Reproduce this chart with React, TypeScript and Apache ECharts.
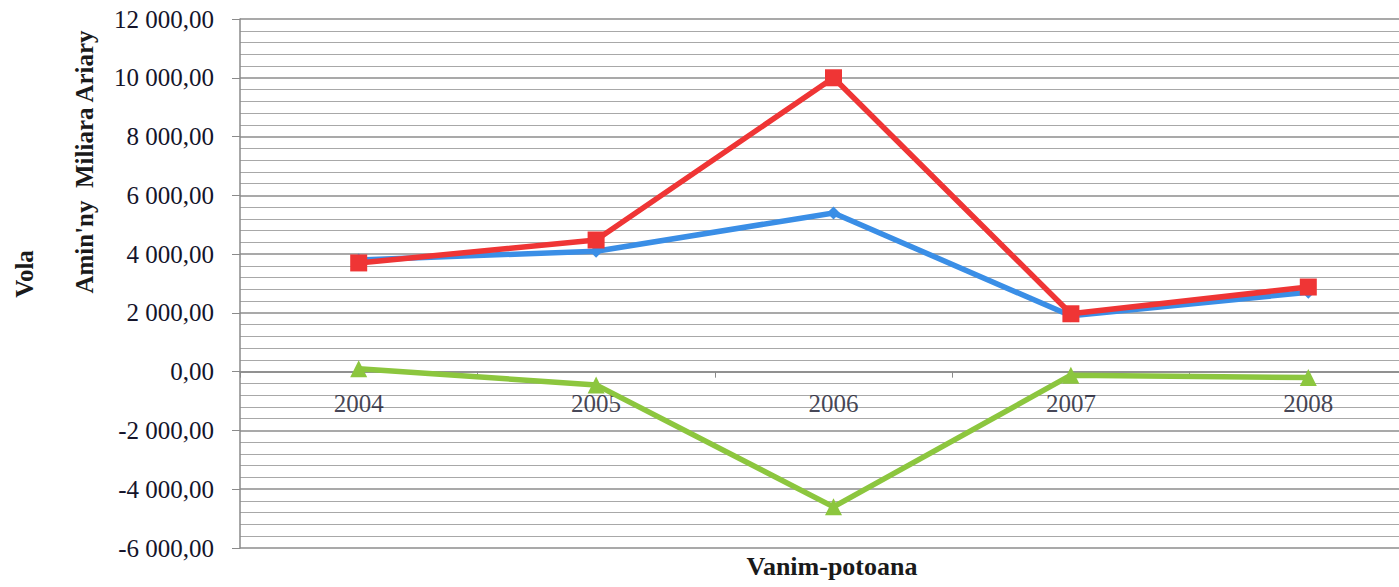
import React, { useEffect, useRef } from "react";
import * as echarts from "echarts";

const years = ["2004", "2005", "2006", "2007", "2008"];
const blueValues = [3800, 4100, 5400, 1900, 2700];
const redValues = [3700, 4480, 10000, 1970, 2880];
const greenValues = [100, -450, -4600, -120, -200];
const labelAnchor = [0, 0, 0, 0, 0];
const yMin = -6000;
const yMax = 12000;
const yStep = 2000;

function fmt(v: number): string {
  const neg = v < 0;
  const a = Math.abs(v);
  const s = Math.round(a).toString().replace(/\B(?=(\d{3})+(?!\d))/g, " ");
  return (neg ? "-" : "") + s + ",00";
}

export default function App() {
  const ref = useRef<HTMLDivElement>(null);
  useEffect(() => {
    document.body.style.margin = "0";
    const chart = echarts.init(ref.current!, null, { renderer: "svg" });
    const font = "'Liberation Serif', 'Times New Roman', serif";
    chart.setOption({
      animation: false,
      backgroundColor: "#ffffff",
      grid: {
        left: 240,
        width: 1187,
        top: 19,
        bottom: 39,
        containLabel: false,
        outerBoundsMode: "none",
      },
      xAxis: {
        type: "category",
        data: years,
        boundaryGap: true,
        axisLine: { onZero: true, lineStyle: { color: "#8a8a8a", width: 1.5 } },
        axisTick: { show: true, alignWithLabel: false, length: 6, lineStyle: { color: "#8a8a8a" } },
        axisLabel: { show: false },
        splitLine: { show: false },
      },
      yAxis: {
        type: "value",
        min: yMin,
        max: yMax,
        interval: yStep,
        axisLine: { show: true, lineStyle: { color: "#8a8a8a", width: 1.5 } },
        axisTick: { show: true, length: 8, lineStyle: { color: "#8a8a8a" } },
        minorTick: { show: false, splitNumber: 5 },
        axisLabel: {
          formatter: (v: number) => fmt(v),
          margin: 26,
          fontFamily: font,
          fontSize: 25,
          color: "#14142a",
        },
        splitLine: { show: true, lineStyle: { color: "#8c8c8c", width: 1.5 } },
        minorSplitLine: { show: true, lineStyle: { color: "#a8a8a8", width: 1.2 } },
      },
      graphic: [
        {
          type: "text",
          x: 24,
          y: 274,
          rotation: Math.PI / 2,
          style: {
            text: "Vola",
            font: "bold 25px " + font,
            fill: "#1a1a1a",
            textAlign: "center",
            textVerticalAlign: "middle",
          },
        },
        {
          type: "text",
          x: 84,
          y: 162,
          rotation: Math.PI / 2,
          style: {
            text: "Amin'ny  Miliara Ariary",
            font: "bold 25px " + font,
            fill: "#1a1a1a",
            textAlign: "center",
            textVerticalAlign: "middle",
          },
        },
        {
          type: "text",
          x: 832,
          y: 566,
          style: {
            text: "Vanim-potoana",
            font: "bold 26px " + font,
            fill: "#1a1a1a",
            textAlign: "center",
            textVerticalAlign: "middle",
          },
        },
      ],
      series: [
        {
          type: "scatter",
          data: labelAnchor,
          symbolSize: 0,
          silent: true,
          z: 1,
          label: {
            show: true,
            position: "inside",
            offset: [0, 32],
            formatter: (p: any) => p.name,
            fontFamily: font,
            fontSize: 25,
            color: "#14142a",
          },
        },
        {
          type: "line",
          data: greenValues,
          symbol: "triangle",
          symbolSize: 17,
          lineStyle: { color: "#8cc63e", width: 5.5 },
          itemStyle: { color: "#8cc63e" },
          z: 2,
        },
        {
          type: "line",
          data: blueValues,
          symbol: "diamond",
          symbolSize: 13,
          lineStyle: { color: "#3a8ee6", width: 5.5 },
          itemStyle: { color: "#3a8ee6" },
          z: 3,
        },
        {
          type: "line",
          data: redValues,
          symbol: "rect",
          symbolSize: 17,
          lineStyle: { color: "#ef3535", width: 5.5 },
          itemStyle: { color: "#ef3535" },
          z: 4,
        },
      ],
    });
    return () => chart.dispose();
  }, []);
  return <div ref={ref} style={{ width: 1399, height: 587 }} />;
}
